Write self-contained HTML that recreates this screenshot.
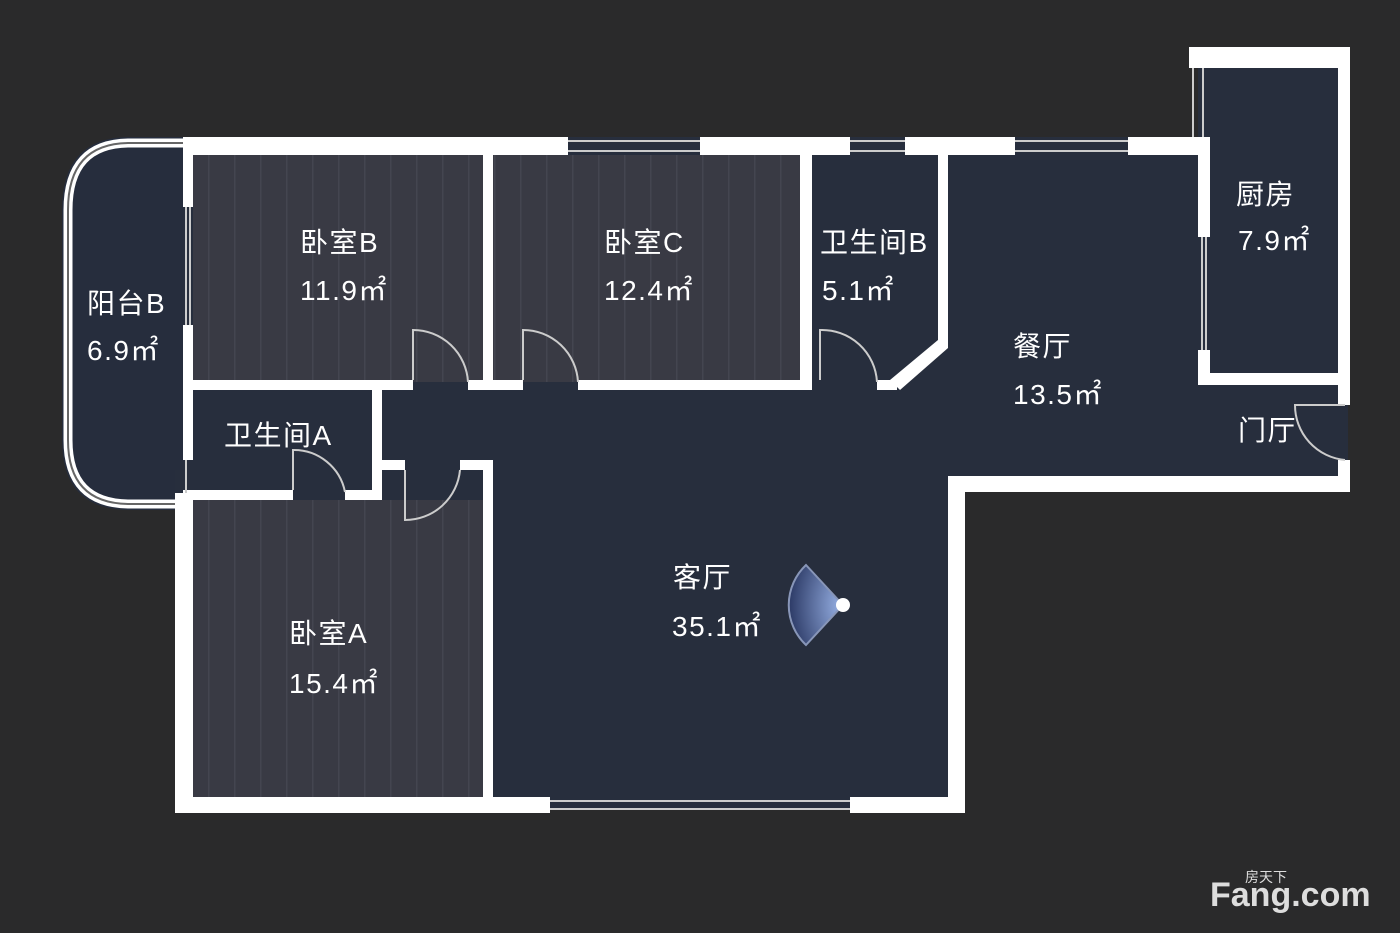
<!DOCTYPE html>
<html><head><meta charset="utf-8"><style>
html,body{margin:0;padding:0;background:#2a2a2b;}
svg{display:block}
text{font-family:"Liberation Sans","Noto Sans CJK SC",sans-serif;fill:#fff;font-size:28px;letter-spacing:1.5px}
</style></head><body>
<svg width="1400" height="933" viewBox="0 0 1400 933" xmlns="http://www.w3.org/2000/svg">
<defs>
<pattern id="str" width="26" height="10" patternUnits="userSpaceOnUse">
<rect width="26" height="10" fill="#393a44"/><rect x="0" width="1.5" height="10" fill="#444550"/>
</pattern>
<radialGradient id="cone" cx="1" cy="0.5" r="1"><stop offset="0" stop-color="#9ab4e8"/><stop offset="1" stop-color="#2c3a66"/></radialGradient>
</defs>
<rect width="1400" height="933" fill="#2a2a2b"/>
<path d="M183 137 L183 510 L130 510 Q62 510 62 440 L62 210 Q62 137 130 137 Z" fill="#262d3d"/>
<rect x="183" y="137" width="1165" height="355" fill="#272e3d"/>
<rect x="175" y="470" width="790" height="340" fill="#272e3d"/>
<rect x="1198" y="47" width="150" height="340" fill="#272e3d"/>
<rect x="193" y="155" width="290" height="227" fill="url(#str)"/>
<rect x="493" y="155" width="307" height="227" fill="url(#str)"/>
<rect x="193" y="500" width="290" height="297" fill="url(#str)"/>
<path d="M183 143 L130 143 Q68 143 68 210 L68 440 Q68 504 130 504 L183 504" fill="none" stroke="#fff" stroke-width="9"/>
<path d="M183 143 L130 143 Q68 143 68 210 L68 440 Q68 504 130 504 L183 504" fill="none" stroke="#666" stroke-width="2"/>
<g fill="#fff">
<rect x="183" y="137" width="385" height="18"/>
<rect x="700" y="137" width="150" height="18"/>
<rect x="905" y="137" width="110" height="18"/>
<rect x="1128" y="137" width="82" height="18"/>
<rect x="1189" y="47" width="161" height="21"/>
<rect x="1338" y="47" width="12" height="358"/>
<rect x="1338" y="460" width="12" height="32"/>
<rect x="1198" y="137" width="12" height="100"/>
<rect x="1198" y="350" width="12" height="35"/>
<rect x="1198" y="373" width="150" height="12"/>
<rect x="948" y="476" width="402" height="16"/>
<rect x="948" y="476" width="17" height="337"/>
<rect x="850" y="797" width="115" height="16"/>
<rect x="175" y="797" width="375" height="16"/>
<rect x="175" y="493" width="18" height="320"/>
<rect x="183" y="137" width="10" height="70"/>
<rect x="183" y="325" width="10" height="135"/>
<rect x="483" y="155" width="10" height="227"/>
<rect x="800" y="155" width="12" height="235"/>
<rect x="938" y="155" width="10" height="190"/>
<polygon points="938,340 948,345 948,348 900,390 890,380"/>
<rect x="183" y="380" width="230" height="10"/>
<rect x="468" y="380" width="55" height="10"/>
<rect x="578" y="380" width="234" height="10"/>
<rect x="877" y="380" width="20" height="10"/>
<rect x="372" y="390" width="10" height="103"/>
<rect x="183" y="490" width="110" height="10"/>
<rect x="345" y="490" width="37" height="10"/>
<rect x="382" y="460" width="23" height="10"/>
<rect x="460" y="460" width="33" height="10"/>
<rect x="483" y="460" width="10" height="337"/>
</g>
<g stroke="#ccc" stroke-width="2" fill="none">
<path d="M568 141h132M568 151h132M850 141h55M850 151h55M1015 141h113M1015 151h113M550 801h300M550 809h300M1193 68v69M1203 68v69M1202 237v113M1206 237v113M186 207v118M190 207v118M186 460v33"/>
<path d="M413 380v-50 A55 55 0 0 1 468 382"/>
<path d="M523 380v-50 A55 55 0 0 1 578 382"/>
<path d="M820 380v-50 A55 55 0 0 1 877 382"/>
<path d="M293 490v-40 A52 52 0 0 1 345 492"/>
<path d="M405 470v50 A55 55 0 0 0 460 470"/>
<path d="M1345 405h-50 A55 55 0 0 0 1345 460"/>
</g>
<path d="M843 605 L806 565 A55 55 0 0 0 806 645 Z" fill="url(#cone)" stroke="#8896b8" stroke-width="2"/>
<circle cx="843" cy="605" r="7" fill="#fff"/>
<text x="300" y="252">卧室B</text><text x="300" y="300">11.9㎡</text>
<text x="604" y="252">卧室C</text><text x="604" y="300">12.4㎡</text>
<text x="820" y="252">卫生间B</text><text x="822" y="300">5.1㎡</text>
<text x="87" y="313">阳台B</text><text x="87" y="360">6.9㎡</text>
<text x="224" y="445">卫生间A</text>
<text x="1236" y="204">厨房</text><text x="1238" y="250">7.9㎡</text>
<text x="1013" y="356">餐厅</text><text x="1013" y="404">13.5㎡</text>
<text x="1238" y="440">门厅</text>
<text x="673" y="587">客厅</text><text x="672" y="636">35.1㎡</text>
<text x="289" y="643">卧室A</text><text x="289" y="693">15.4㎡</text>
<text x="1210" y="906" style="font-size:34px;font-weight:bold;fill:#ddd;letter-spacing:0">Fang.com</text>
<text x="1245" y="882" style="font-size:14px;fill:#ddd;letter-spacing:0">房天下</text>
</svg>
</body></html>
